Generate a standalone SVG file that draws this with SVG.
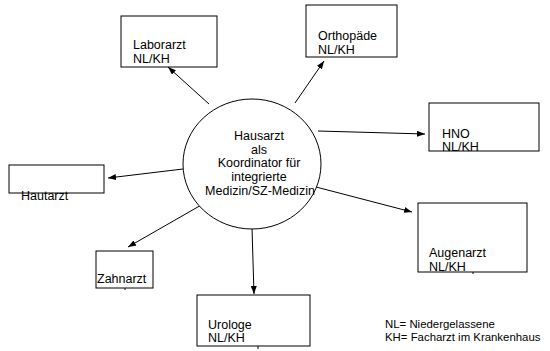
<svg xmlns="http://www.w3.org/2000/svg" width="550" height="351" viewBox="0 0 550 351">
<style>
.box{fill:#fff;stroke:#000;stroke-width:1}
.tk{stroke:#000;stroke-width:1}
.t{font-family:"Liberation Sans",Arial,sans-serif;font-size:12.5px;fill:#000}
.n{font-family:"Liberation Sans",Arial,sans-serif;font-size:11.4px;fill:#000}
.c{text-anchor:middle}
.ln{stroke:#000;stroke-width:1;fill:none;marker-end:url(#ah)}
</style>
<defs>
<marker id="ah" markerUnits="userSpaceOnUse" markerWidth="8" markerHeight="6" refX="8" refY="3" orient="auto">
<path d="M0,0 L8,3 L0,6 z" fill="#000"/>
</marker>
</defs>
<rect width="550" height="351" fill="#fff"/>
<g id="connectors">
<line class="ln" x1="209" y1="104" x2="168" y2="67"/>
<line class="ln" x1="295" y1="103" x2="324" y2="61"/>
<line class="ln" x1="318" y1="131" x2="425" y2="134"/>
<line class="ln" x1="183" y1="169" x2="108" y2="178"/>
<line class="ln" x1="316" y1="187" x2="412" y2="212"/>
<line class="ln" x1="203" y1="204" x2="128" y2="247"/>
<line class="ln" x1="252" y1="228" x2="254" y2="294"/>
</g>
<g id="hausarzt">
<ellipse class="box" cx="252" cy="164" rx="69" ry="65"/>
<text class="t c" x="259" y="140">Hausarzt</text>
<text class="t c" x="259" y="154">als</text>
<text class="t c" x="259" y="167">Koordinator für</text>
<text class="t c" x="259" y="181">integrierte</text>
<text class="t c" x="260" y="195">Medizin/SZ-Medizin</text>
</g>
<g id="laborarzt">
<rect class="box" x="121" y="16" width="96" height="51"/>
<text class="t" x="133" y="49">Laborarzt</text>
<text class="t" x="133" y="63">NL/KH</text>
</g>
<g id="orthopaede">
<rect class="box" x="306" y="5" width="91" height="52"/>
<text class="t" x="318" y="40">Orthopäde</text>
<text class="t" x="318" y="54">NL/KH</text>
</g>
<g id="hno">
<rect class="box" x="429" y="103" width="110" height="48"/>
<text class="t" x="442" y="138">HNO</text>
<text class="t" x="442" y="151">NL/KH</text>
</g>
<g id="hautarzt">
<rect class="box" x="9" y="165" width="95" height="28"/>
<text class="t" x="21" y="200">Hautarzt</text>
</g>
<g id="augenarzt">
<rect class="box" x="418" y="203" width="109" height="69"/>
<text class="t" x="429" y="257">Augenarzt</text>
<text class="t" x="429" y="271">NL/KH</text>
<line class="tk" x1="473" y1="272" x2="473" y2="274"/>
</g>
<g id="zahnarzt">
<rect class="box" x="96" y="251" width="57" height="37"/>
<text class="t" x="97" y="283">Zahnarzt</text>
<line class="tk" x1="125" y1="288" x2="125" y2="290"/>
</g>
<g id="urologe">
<rect class="box" x="197" y="295" width="113" height="51"/>
<text class="t" x="208" y="329">Urologe</text>
<text class="t" x="208" y="342">NL/KH</text>
<line class="tk" x1="258" y1="346" x2="258" y2="349"/>
</g>
<g id="legend">
<text class="n" x="385" y="328">NL= Niedergelassene</text>
<text class="n" x="385" y="341">KH= Facharzt im Krankenhaus</text>
</g>
</svg>
